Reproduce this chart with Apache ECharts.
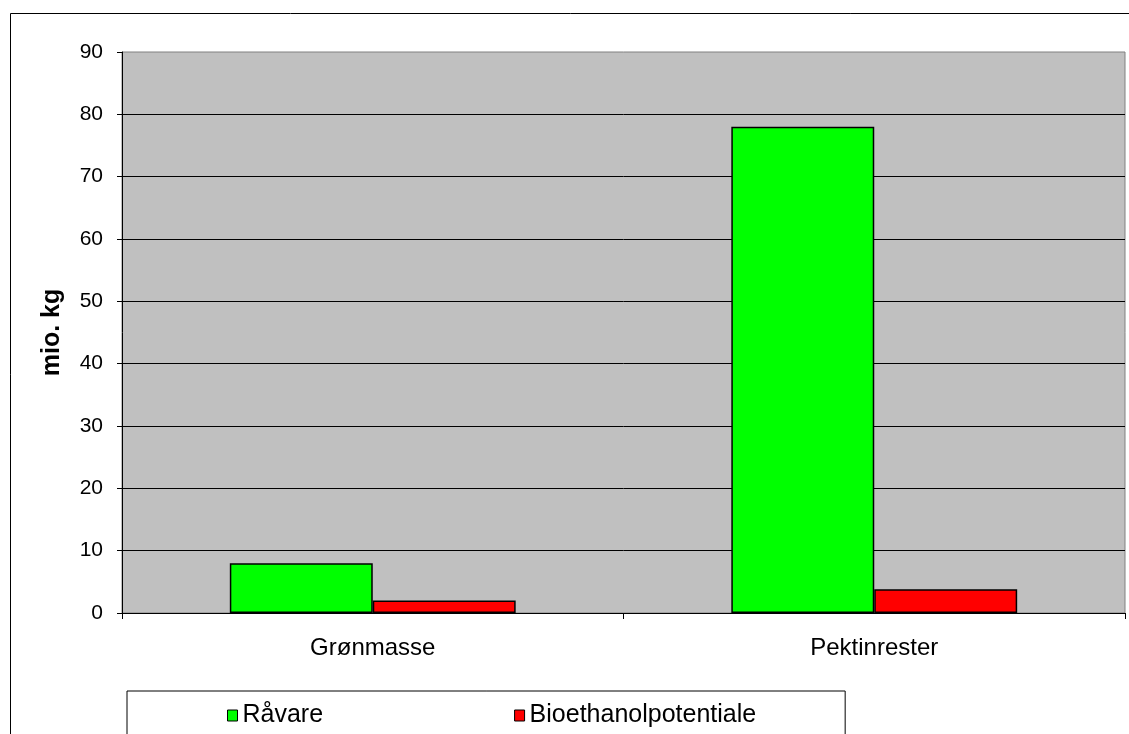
<!DOCTYPE html>
<html>
<head>
<meta charset="utf-8">
<script src="https://cdn.jsdelivr.net/npm/echarts@6/dist/echarts.min.js"></script>
<style>
  html, body { margin: 0; padding: 0; background: #fff; }
  #chart { width: 1129px; height: 734px; }
</style>
</head>
<body>
<div id="chart"></div>
<script>
// data
const categories = ['Grønmasse', 'Pektinrester'];
const raavare = [8, 78];
const bioethanol = [2, 3.8];
const yTicks = { min: 0, max: 90, step: 10 };

const font = "'Liberation Sans', Arial, sans-serif";

const chart = echarts.init(document.getElementById('chart'), null, { renderer: 'canvas' });

const option = {
  animation: false,
  backgroundColor: '#fff',
  textStyle: { fontFamily: font, color: '#000' },
  graphic: [
    { // outer frame
      type: 'rect',
      shape: { x: 10.5, y: 13.5, width: 1140, height: 760 },
      style: { fill: 'none', stroke: '#000', lineWidth: 1 },
      silent: true, z: -1
    }
  ],
  grid: {
    left: 122, top: 52, right: 4, bottom: 121,
    show: true,
    backgroundColor: '#c0c0c0',
    borderColor: '#808080',
    borderWidth: 1
  },
  legend: {
    left: 127, top: 691,
    orient: 'horizontal',
    padding: [12, 89, 30, 100],
    borderColor: '#000',
    borderWidth: 1,
    itemWidth: 10,
    itemHeight: 11,
    itemGap: 191,
    icon: 'rect',
    textStyle: { fontSize: 25, fontFamily: font, color: '#000' },
    itemStyle: { borderColor: '#000', borderWidth: 1 },
    data: ['Råvare', 'Bioethanolpotentiale']
  },
  xAxis: {
    type: 'category',
    data: categories,
    boundaryGap: true,
    axisLine: { lineStyle: { color: '#000', width: 1 } },
    axisTick: { show: true, length: 6, lineStyle: { color: '#000' } },
    axisLabel: { fontSize: 24, color: '#000', margin: 23, fontFamily: font }
  },
  yAxis: {
    type: 'value',
    min: yTicks.min,
    max: yTicks.max,
    interval: yTicks.step,
    name: 'mio. kg',
    nameLocation: 'middle',
    nameRotate: 90,
    nameGap: 57,
    nameTextStyle: { fontSize: 25, fontWeight: 'bold', color: '#000', fontFamily: font },
    axisLine: { show: true, lineStyle: { color: '#000', width: 1 } },
    axisTick: { show: true, length: 5, lineStyle: { color: '#000' } },
    axisLabel: { fontSize: 21, color: '#000', margin: 19, fontFamily: font },
    splitLine: { show: true, showMaxLine: false, lineStyle: { color: '#000', width: 1 } }
  },
  series: [
    {
      name: 'Råvare',
      type: 'bar',
      data: raavare,
      barGap: '0%',
      barCategoryGap: '43%',
      itemStyle: { color: '#00ff00', borderColor: '#000', borderWidth: 1.5 }
    },
    {
      name: 'Bioethanolpotentiale',
      type: 'bar',
      data: bioethanol,
      itemStyle: { color: '#ff0000', borderColor: '#000', borderWidth: 1.5 }
    }
  ]
};

chart.setOption(option);
</script>
</body>
</html>
